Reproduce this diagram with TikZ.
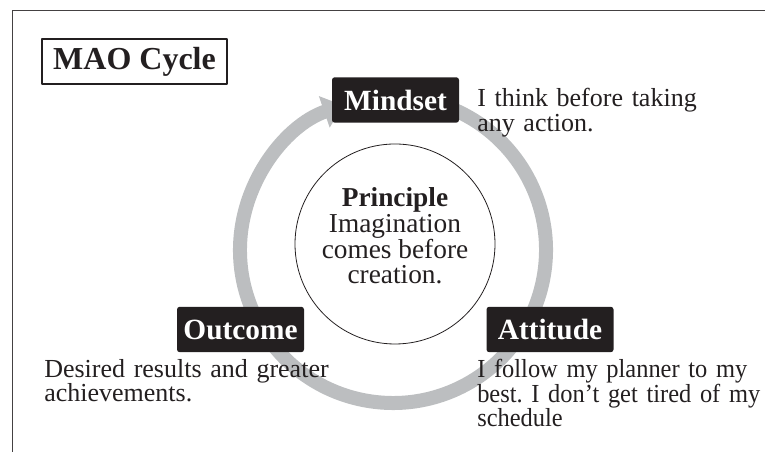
\documentclass[tikz,border=0pt]{standalone}
\usepackage{fontspec}
\setmainfont{Liberation Serif}
\usetikzlibrary{arrows.meta,backgrounds}
\definecolor{inkblack}{RGB}{35,31,32}
\definecolor{cyclegray}{RGB}{188,190,192}
\frenchspacing

\begin{document}
\begin{tikzpicture}[line join=round,x=0.75pt,y=0.75pt,
  stage/.style={fill=inkblack,text=white,rounded corners=2pt,inner sep=0pt,
    minimum width=95.25pt,minimum height=34pt,font=\fontsize{22}{24}\bfseries},
  titlebox/.style={draw=inkblack,line width=1.5pt,inner sep=0pt,text=inkblack,
    minimum width=138.75pt,minimum height=33.75pt,font=\fontsize{24}{26}\bfseries},
  note/.style={anchor=north west,inner sep=0pt,align=left,text width=225pt,
    text=inkblack,font=\fontsize{19.5}{18.5}\selectfont},
  principle/.style={circle,draw=inkblack,line width=0.6pt,inner sep=0pt,
    minimum size=150pt,align=center,text=inkblack,
    text depth=12.3pt,font=\fontsize{20.5}{18.8}\selectfont}]

\useasboundingbox (0,0) rectangle (765,452);

% frame
\draw[line width=0.75pt,inkblack!85] (12,0) -- (12,441) -- (765,441);

\node[titlebox] (title) at (134.5,390.5) {MAO Cycle};

% the three stages
\node[stage] (mindset) at (395.5,352) {Mindset};
\node[stage] (outcome) at (240.5,122.5) {Outcome};
\node[stage] (attitude) at (550,122.5) {Attitude};

\node[principle] (principle) at (395,208) {\textbf{Principle}\\Imagination\\comes before\\creation.};

\node[note] (mindnote) at (477,364) {I think before taking\\any action.};
\node[note,font={\addfontfeature{FakeStretch=0.94}\fontsize{19.5}{18.5}\selectfont}] (attnote) at (477,93)
  {I follow my planner to my\\best. I don't get tired of my\\schedule};
\node[note] (outnote) at (44,93) {Desired results and greater\\achievements.};

% cycle arrow
\begin{scope}[on background layer]
\draw[cyclegray,line width=10.5pt,-{Triangle[width=24pt,length=15pt]}]
  (393,202) ++(80:114.75pt) arc[start angle=80,end angle=-251,radius=114.75pt];
\end{scope}
\end{tikzpicture}
\end{document}
